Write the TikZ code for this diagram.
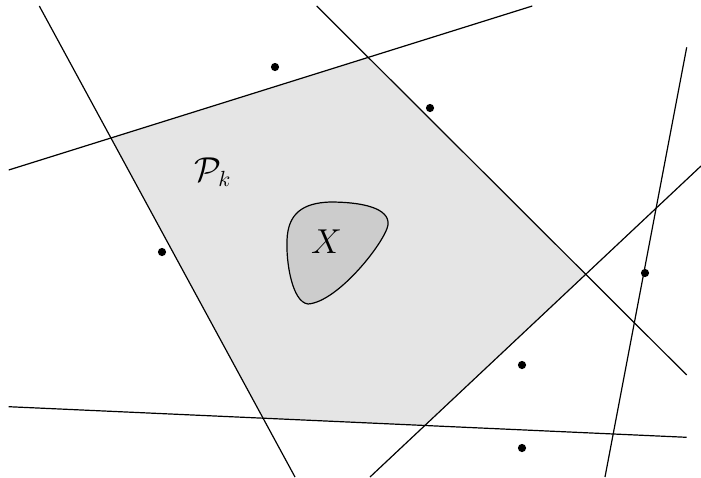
\documentclass[tikz,border=0pt]{standalone}
\begin{document}
\begin{tikzpicture}[x=0.5pt,y=-0.5pt,
  hline/.style={line width=0.6pt,black},
  pt/.style={circle,fill=black,inner sep=0pt,minimum size=4.1pt},
  lab/.style={font=\fontsize{16}{19}\selectfont,inner sep=0pt}]
\useasboundingbox (0,0) rectangle (701,477);
% line end points
\coordinate (a1) at (39.3,6);   \coordinate (a2) at (295,477);
\coordinate (b1) at (8.7,170);  \coordinate (b2) at (532.3,6);
\coordinate (c1) at (316.7,6);  \coordinate (c2) at (686.7,375);
\coordinate (d1) at (686.7,47.3); \coordinate (d2) at (605,477);
\coordinate (e1) at (8.7,406.7); \coordinate (e2) at (686.7,437.3);
\coordinate (f1) at (370,477);  \coordinate (f2) at (701,166);
% polygon vertices
\coordinate (p1) at (intersection of a1--a2 and b1--b2);
\coordinate (p2) at (intersection of b1--b2 and c1--c2);
\coordinate (p3) at (intersection of c1--c2 and f1--f2);
\coordinate (p4) at (intersection of f1--f2 and e1--e2);
\coordinate (p5) at (intersection of e1--e2 and a1--a2);
\fill[black!10] (p1) -- (p2) -- (p3) -- (p4) -- (p5) -- cycle;
% lines
\draw[hline] (a1) -- (a2);
\draw[hline] (b1) -- (b2);
\draw[hline] (c1) -- (c2);
\draw[hline] (d1) -- (d2);
\draw[hline] (e1) -- (e2);
\draw[hline] (f1) -- (f2);
% blob X
\draw[line width=0.6pt,fill=black!20] (308,304)
  .. controls (292,302) and (286,262) .. (287,240)
  .. controls (288,214) and (302,203) .. (330,202)
  .. controls (362,202) and (390,208) .. (388,225)
  .. controls (385,242) and (338,302) .. (308,304) -- cycle;
\node[lab] (X) at (326.5,242) {$X$};
\node[lab] (P) at (213,172) {$\mathcal{P}_k$};
% dots
\node[pt] (q1) at (275,67) {};
\node[pt] (q2) at (430,108) {};
\node[pt] (q3) at (162,252) {};
\node[pt] (q4) at (645,273) {};
\node[pt] (q5) at (522,365) {};
\node[pt] (q6) at (522,448) {};
\end{tikzpicture}
\end{document}
